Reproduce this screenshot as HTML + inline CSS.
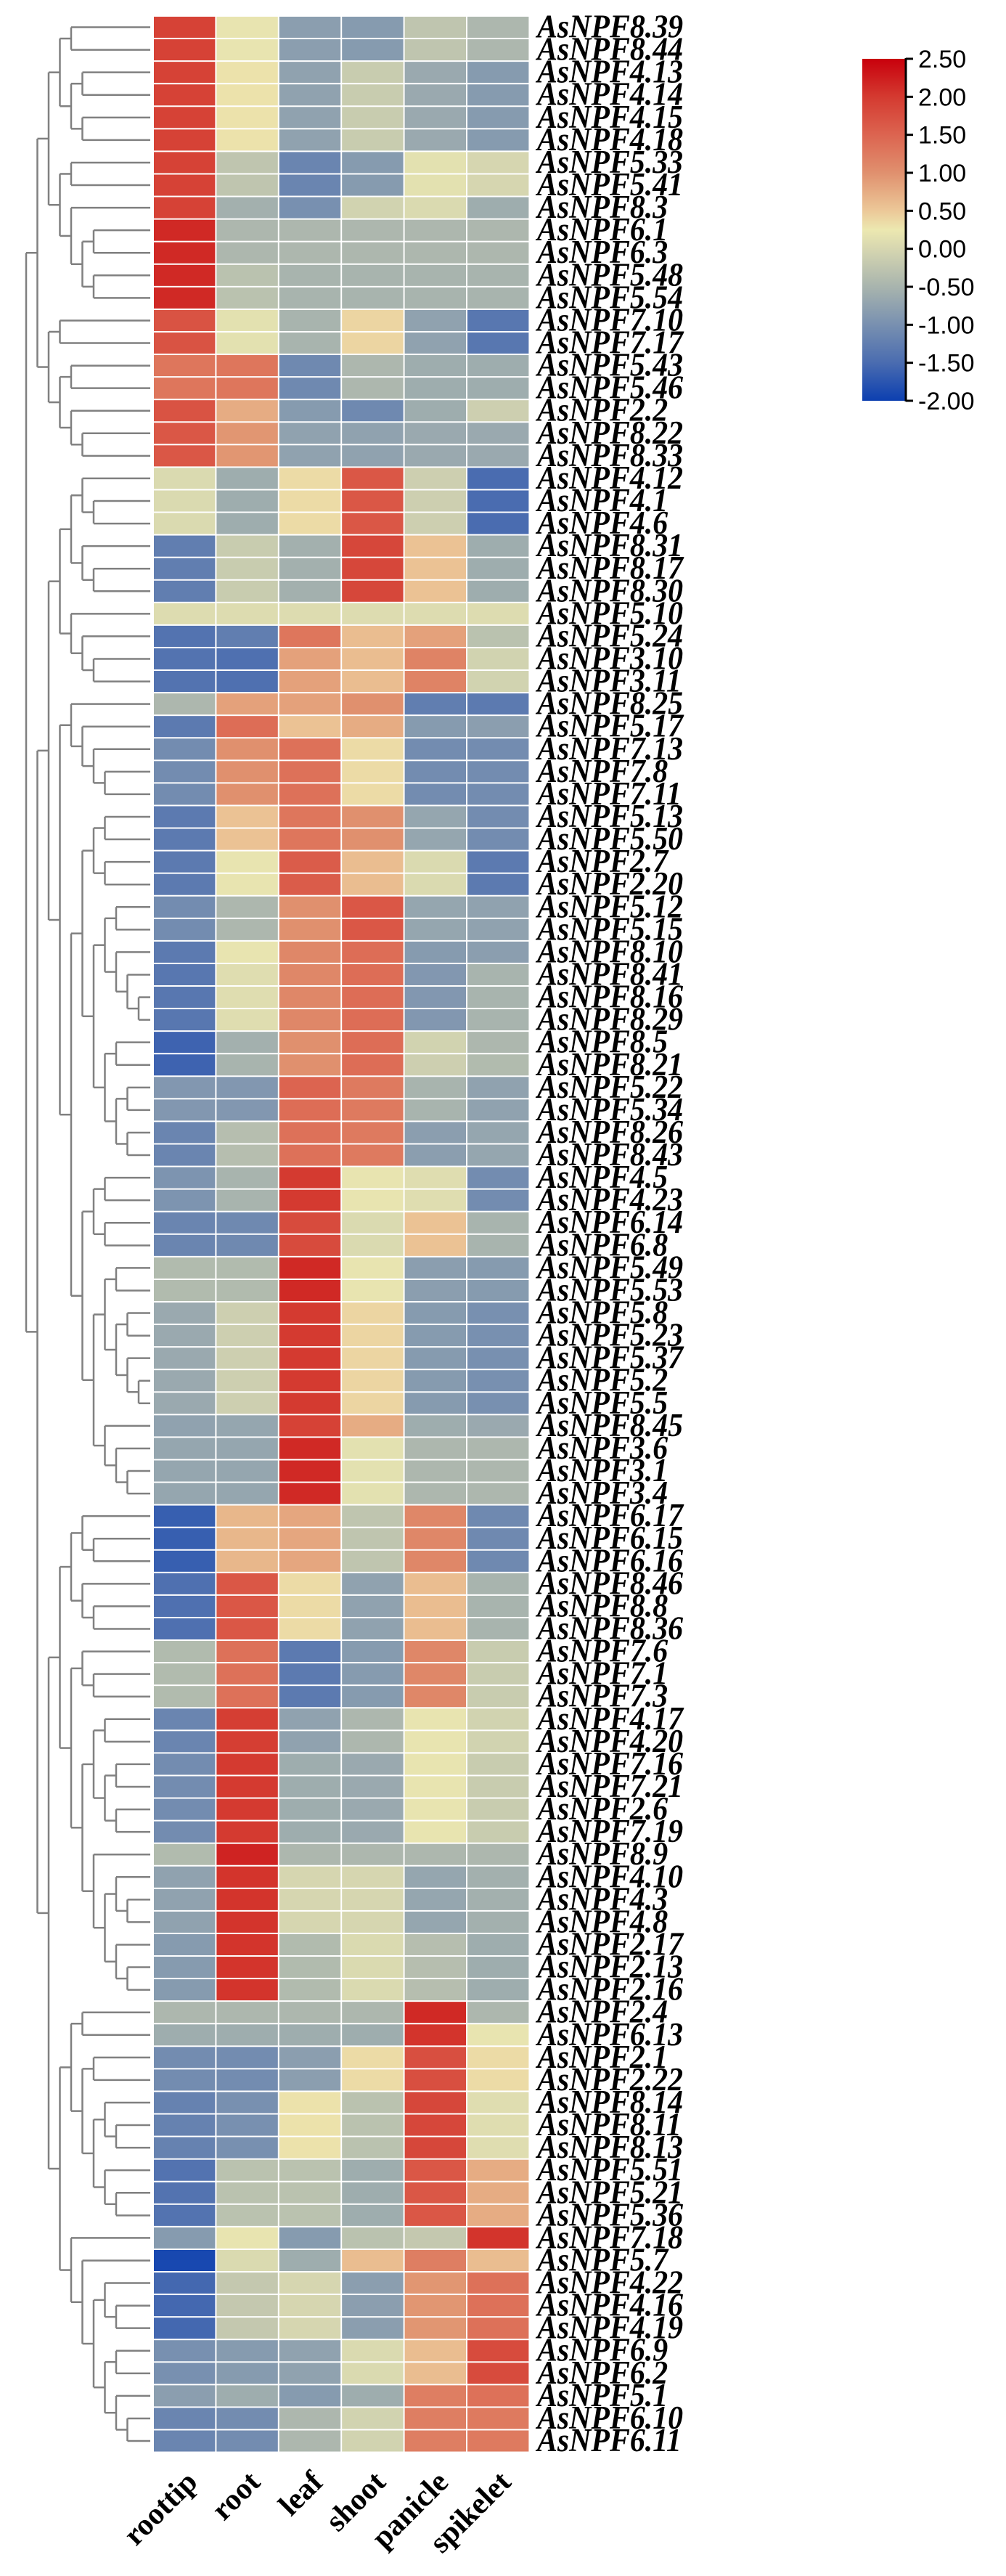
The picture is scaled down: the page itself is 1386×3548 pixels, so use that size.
<!DOCTYPE html>
<html><head><meta charset="utf-8">
<style>
html,body{margin:0;padding:0;background:#fff;}
svg{display:block;}
.rl{font-family:"Liberation Serif",serif;font-style:italic;font-weight:bold;font-size:45px;fill:#000;}
.cl{font-family:"Liberation Serif",serif;font-weight:bold;font-size:42px;fill:#000;}
.tk{font-family:"Liberation Sans",sans-serif;font-size:34px;fill:#000;}
</style></head>
<body>
<svg id="chart" width="1386" height="3548" viewBox="0 0 1386 3548" xmlns="http://www.w3.org/2000/svg">
<defs>
<linearGradient id="cbar" x1="0" y1="1" x2="0" y2="0">
<stop offset="0" stop-color="#0c3fb0"/>
<stop offset="0.111" stop-color="#4a6cb0"/>
<stop offset="0.222" stop-color="#7890b0"/>
<stop offset="0.333" stop-color="#a8b4ae"/>
<stop offset="0.444" stop-color="#d6d6b0"/>
<stop offset="0.5" stop-color="#ece8b0"/>
<stop offset="0.556" stop-color="#ecc898"/>
<stop offset="0.667" stop-color="#e0906e"/>
<stop offset="0.778" stop-color="#dc6450"/>
<stop offset="0.889" stop-color="#d43a30"/>
<stop offset="1" stop-color="#c8000c"/>
</linearGradient>
</defs>
<g id="dendro"></g>
<g id="cells"></g>
<g id="rowlabels"></g>
<g id="collabels"></g>
<g id="colorbar">
<rect x="1188" y="81" width="60" height="471" fill="url(#cbar)"/>
<line x1="1248" y1="80" x2="1248" y2="553" stroke="#000" stroke-width="3"/>
</g>
</svg>
<script>
const genes = ["AsNPF8.39","AsNPF8.44","AsNPF4.13","AsNPF4.14","AsNPF4.15","AsNPF4.18","AsNPF5.33","AsNPF5.41","AsNPF8.3","AsNPF6.1","AsNPF6.3","AsNPF5.48","AsNPF5.54","AsNPF7.10","AsNPF7.17","AsNPF5.43","AsNPF5.46","AsNPF2.2","AsNPF8.22","AsNPF8.33","AsNPF4.12","AsNPF4.1","AsNPF4.6","AsNPF8.31","AsNPF8.17","AsNPF8.30","AsNPF5.10","AsNPF5.24","AsNPF3.10","AsNPF3.11","AsNPF8.25","AsNPF5.17","AsNPF7.13","AsNPF7.8","AsNPF7.11","AsNPF5.13","AsNPF5.50","AsNPF2.7","AsNPF2.20","AsNPF5.12","AsNPF5.15","AsNPF8.10","AsNPF8.41","AsNPF8.16","AsNPF8.29","AsNPF8.5","AsNPF8.21","AsNPF5.22","AsNPF5.34","AsNPF8.26","AsNPF8.43","AsNPF4.5","AsNPF4.23","AsNPF6.14","AsNPF6.8","AsNPF5.49","AsNPF5.53","AsNPF5.8","AsNPF5.23","AsNPF5.37","AsNPF5.2","AsNPF5.5","AsNPF8.45","AsNPF3.6","AsNPF3.1","AsNPF3.4","AsNPF6.17","AsNPF6.15","AsNPF6.16","AsNPF8.46","AsNPF8.8","AsNPF8.36","AsNPF7.6","AsNPF7.1","AsNPF7.3","AsNPF4.17","AsNPF4.20","AsNPF7.16","AsNPF7.21","AsNPF2.6","AsNPF7.19","AsNPF8.9","AsNPF4.10","AsNPF4.3","AsNPF4.8","AsNPF2.17","AsNPF2.13","AsNPF2.16","AsNPF2.4","AsNPF6.13","AsNPF2.1","AsNPF2.22","AsNPF8.14","AsNPF8.11","AsNPF8.13","AsNPF5.51","AsNPF5.21","AsNPF5.36","AsNPF7.18","AsNPF5.7","AsNPF4.22","AsNPF4.16","AsNPF4.19","AsNPF6.9","AsNPF6.2","AsNPF5.1","AsNPF6.10","AsNPF6.11"];
const tissues = ["roottip","root","leaf","shoot","panicle","spikelet"];
const tickLabels = ["2.50","2.00","1.50","1.00","0.50","0.00","-0.50","-1.00","-1.50","-2.00"];
const tickValues = [2.5,2,1.5,1,0.5,0,-0.5,-1,-1.5,-2];
const values = [
[1.9,0.2,-0.8,-0.85,-0.25,-0.45],[1.9,0.2,-0.8,-0.85,-0.25,-0.45],
[1.9,0.3,-0.75,-0.15,-0.65,-0.85],[1.9,0.3,-0.75,-0.15,-0.65,-0.85],[1.9,0.3,-0.75,-0.15,-0.65,-0.85],[1.9,0.3,-0.75,-0.15,-0.65,-0.85],
[1.9,-0.25,-1.15,-0.85,0.15,0.0],[1.9,-0.25,-1.15,-0.85,0.15,0.0],
[1.9,-0.55,-1.0,-0.05,0.05,-0.6],
[2.15,-0.45,-0.45,-0.45,-0.45,-0.45],[2.15,-0.45,-0.45,-0.45,-0.45,-0.45],
[2.15,-0.3,-0.5,-0.5,-0.5,-0.5],[2.15,-0.3,-0.5,-0.5,-0.5,-0.5],
[1.7,0.15,-0.5,0.4,-0.75,-1.35],[1.7,0.15,-0.5,0.4,-0.75,-1.35],
[1.3,1.3,-1.1,-0.45,-0.6,-0.6],[1.3,1.3,-1.1,-0.45,-0.6,-0.6],
[1.7,0.75,-0.85,-1.1,-0.6,-0.1],
[1.65,0.95,-0.75,-0.75,-0.65,-0.65],[1.65,0.95,-0.75,-0.75,-0.65,-0.65],
[0.05,-0.6,0.35,1.65,-0.1,-1.5],[0.05,-0.6,0.35,1.65,-0.1,-1.5],[0.05,-0.6,0.35,1.65,-0.1,-1.5],
[-1.25,-0.15,-0.55,1.85,0.55,-0.6],[-1.25,-0.15,-0.55,1.85,0.55,-0.6],[-1.25,-0.15,-0.55,1.85,0.55,-0.6],
[0.08,0.08,0.08,0.08,0.08,0.08],
[-1.4,-1.25,1.3,0.6,0.85,-0.3],
[-1.4,-1.45,0.85,0.6,1.15,-0.05],[-1.4,-1.45,0.85,0.6,1.15,-0.05],
[-0.45,0.85,0.85,1.0,-1.25,-1.3],
[-1.3,1.4,0.55,0.75,-0.85,-0.8],
[-1.05,1.0,1.35,0.35,-1.05,-1.05],[-1.05,1.0,1.35,0.35,-1.05,-1.05],[-1.05,1.0,1.35,0.35,-1.05,-1.05],
[-1.3,0.55,1.3,1.0,-0.7,-1.05],[-1.3,0.55,1.3,1.0,-0.7,-1.05],
[-1.3,0.2,1.6,0.6,0.05,-1.3],[-1.3,0.2,1.6,0.6,0.05,-1.3],
[-1.05,-0.45,1.0,1.65,-0.7,-0.75],[-1.05,-0.45,1.0,1.65,-0.7,-0.75],
[-1.3,0.2,1.1,1.4,-0.85,-0.8],
[-1.35,0.1,1.1,1.4,-0.9,-0.5],[-1.35,0.1,1.1,1.4,-0.9,-0.5],[-1.35,0.1,1.1,1.4,-0.9,-0.5],
[-1.6,-0.55,1.0,1.4,-0.05,-0.45],[-1.6,-0.5,1.0,1.4,-0.1,-0.4],
[-0.9,-0.9,1.5,1.25,-0.5,-0.75],[-0.9,-0.9,1.4,1.25,-0.5,-0.75],
[-1.15,-0.35,1.35,1.25,-0.8,-0.7],[-1.15,-0.35,1.35,1.25,-0.8,-0.7],
[-0.95,-0.5,2.0,0.2,0.1,-1.05],[-0.95,-0.5,2.0,0.2,0.1,-1.05],
[-1.15,-1.1,1.8,0.05,0.55,-0.5],[-1.15,-1.1,1.8,0.05,0.55,-0.5],
[-0.4,-0.4,2.15,0.2,-0.8,-0.85],[-0.4,-0.4,2.15,0.2,-0.8,-0.85],
[-0.65,-0.1,2.0,0.4,-0.85,-1.0],[-0.65,-0.1,2.0,0.4,-0.85,-1.0],[-0.65,-0.1,2.0,0.4,-0.85,-1.0],[-0.65,-0.1,2.0,0.4,-0.85,-1.0],[-0.65,-0.1,2.0,0.4,-0.85,-1.0],
[-0.75,-0.7,1.9,0.75,-0.6,-0.65],
[-0.7,-0.7,2.15,0.15,-0.45,-0.45],[-0.7,-0.7,2.15,0.15,-0.45,-0.45],[-0.7,-0.7,2.15,0.15,-0.45,-0.45],
[-1.65,0.65,0.8,-0.25,1.1,-1.1],[-1.65,0.65,0.8,-0.25,1.1,-1.1],[-1.65,0.65,0.8,-0.25,1.1,-1.1],
[-1.45,1.65,0.35,-0.75,0.6,-0.5],[-1.45,1.65,0.35,-0.75,0.6,-0.5],[-1.45,1.65,0.35,-0.75,0.6,-0.5],
[-0.4,1.35,-1.3,-0.85,1.1,-0.15],[-0.4,1.35,-1.3,-0.85,1.1,-0.15],[-0.4,1.35,-1.3,-0.85,1.1,-0.15],
[-1.15,1.95,-0.75,-0.45,0.2,-0.05],[-1.15,1.95,-0.75,-0.45,0.2,-0.05],
[-1.05,2.0,-0.6,-0.65,0.2,-0.15],[-1.05,2.0,-0.6,-0.65,0.2,-0.15],[-1.05,2.0,-0.6,-0.65,0.2,-0.15],[-1.05,2.0,-0.6,-0.65,0.2,-0.15],
[-0.4,2.2,-0.45,-0.45,-0.45,-0.45],
[-0.75,2.05,0.0,0.0,-0.7,-0.55],[-0.75,2.05,0.0,0.0,-0.7,-0.55],[-0.75,2.05,0.0,0.0,-0.7,-0.55],
[-0.85,2.05,-0.4,0.05,-0.35,-0.6],[-0.85,2.05,-0.4,0.05,-0.35,-0.6],[-0.85,2.05,-0.4,0.05,-0.35,-0.6],
[-0.45,-0.45,-0.45,-0.45,2.15,-0.45],
[-0.6,-0.6,-0.6,-0.6,2.05,0.2],
[-1.05,-1.05,-0.8,0.35,1.75,0.35],[-1.05,-1.05,-0.8,0.35,1.75,0.35],
[-1.2,-1.0,0.3,-0.3,1.85,0.1],[-1.2,-1.0,0.3,-0.3,1.85,0.1],[-1.2,-1.0,0.3,-0.3,1.85,0.1],
[-1.4,-0.3,-0.3,-0.6,1.65,0.75],[-1.4,-0.3,-0.3,-0.6,1.65,0.75],[-1.4,-0.3,-0.3,-0.6,1.65,0.75],
[-0.85,0.2,-0.85,-0.3,-0.2,2.05],
[-1.9,0.05,-0.6,0.6,1.2,0.6],
[-1.55,-0.2,0.0,-0.8,0.95,1.35],[-1.55,-0.2,0.0,-0.8,0.95,1.35],[-1.55,-0.2,0.0,-0.8,0.95,1.35],
[-1.0,-0.85,-0.75,0.05,0.6,1.8],[-1.0,-0.85,-0.75,0.05,0.6,1.8],
[-0.8,-0.6,-0.85,-0.6,1.2,1.35],
[-1.15,-1.05,-0.45,-0.05,1.2,1.25],[-1.15,-1.05,-0.45,-0.05,1.2,1.25]
];
const tree = [[[[[1,2],[[3,4],[5,6]]],[[7,8],[9,[[10,11],[12,13]]]]],[[14,15],[[16,17],[18,[19,20]]]]],
 [[[[[21,[22,23]],[24,[25,26]]],[27,[28,[29,30]]]],[[31,[32,[33,[34,35]]]],[[[[36,37],[38,39]],[[[40,41],[42,[43,[44,45]]]],[[46,47],[[48,49],[50,51]]]]],[[[52,53],[54,55]],[[[56,57],[[58,59],[60,[61,62]]]],[63,[64,[65,66]]]]]]]],
  [[[[67,[68,69]],[70,[71,72]]],[[73,[74,75]],[[[76,77],[[78,79],[80,81]]],[82,[[83,[84,85]],[86,[87,88]]]]]]],[[[89,90],[[91,92],[[93,[94,95]],[96,[97,98]]]]],[99,[100,[[101,[102,103]],[[104,105],[106,[107,108]]]]]]]]]];

const NS="http://www.w3.org/2000/svg";
const X0=211, CW=86.4, Y0=22, RH=31.07;
const xCol=j=>X0+CW*j;
const yRow=i=>Y0+RH*i;
const stops=[[-2,[12,63,176]],[-1.5,[74,108,176]],[-1,[120,144,176]],[-0.5,[168,180,174]],[0,[214,214,176]],[0.25,[236,232,176]],[0.5,[236,200,152]],[1,[224,144,110]],[1.5,[220,100,80]],[2,[212,58,48]],[2.5,[200,0,12]]];
function color(v){
  v=Math.max(-2,Math.min(2.5,v));
  for(let k=0;k<stops.length-1;k++){
    const a=stops[k],b=stops[k+1];
    if(v<=b[0]){const t=(v-a[0])/(b[0]-a[0]);
      const c=a[1].map((q,m)=>Math.round(q+(b[1][m]-q)*t));
      return "rgb("+c.join(",")+")";}
  }
  return "rgb(200,0,12)";
}
function mk(tag,attrs,parent){const e=document.createElementNS(NS,tag);for(const k in attrs)e.setAttribute(k,attrs[k]);parent.appendChild(e);return e;}

const cells=document.getElementById('cells');
values.forEach((row,i)=>{row.forEach((v,j)=>{
  const r=mk('rect',{x:xCol(j)+1,y:yRow(i)+1,width:CW-2,height:RH-2,fill:color(v)},cells);
  
  
});});

const rl=document.getElementById('rowlabels');
genes.forEach((g,i)=>{
  const by=yRow(i)+RH/2+14;
  const t=mk('text',{x:0,y:0,'class':'rl',transform:'translate(740 '+by+') scale(0.93 1)'},rl);
  t.textContent=g;
  
  
});

const cl=document.getElementById('collabels');
tissues.forEach((s,j)=>{
  const cx=xCol(j)+CW/2+20, cy=3421;
  const t=mk('text',{x:cx,y:cy,'class':'cl','text-anchor':'end',transform:'rotate(-45 '+cx+' '+cy+')'},cl);
  t.textContent=s;
  
  
});

const cb=document.getElementById('colorbar');
tickValues.forEach((v,k)=>{
  const y=81+(2.5-v)/4.5*471;
  const l=mk('line',{x1:1248,y1:y,x2:1258,y2:y,stroke:'#000','stroke-width':3},cb);
  
  
  const t=mk('text',{x:1265,y:y+12,'class':'tk'},cb);
  t.textContent=tickLabels[k];
  
  
});

const dg=document.getElementById('dendro');
const LEAFX=207, RX=36, DX=15.5;
function line(x1,y1,x2,y2){
  const l=mk('line',{x1:x1,y1:y1,x2:x2,y2:y2,stroke:'#808080','stroke-width':2.5},dg);
  
  
}
function draw(node,depth){
  const x=RX+DX*depth;
  if(typeof node==='number'){return yRow(node-1)+RH/2;}
  const ys=node.map(c=>{
    const y=draw(c,depth+1);
    const cx=(typeof c==='number')?LEAFX:RX+DX*(depth+1);
    line(x,y,cx,y);
    return y;
  });
  line(x,ys[0],x,ys[ys.length-1]);
  return (ys[0]+ys[ys.length-1])/2;
}
draw(tree,0);
</script>
</body></html>
